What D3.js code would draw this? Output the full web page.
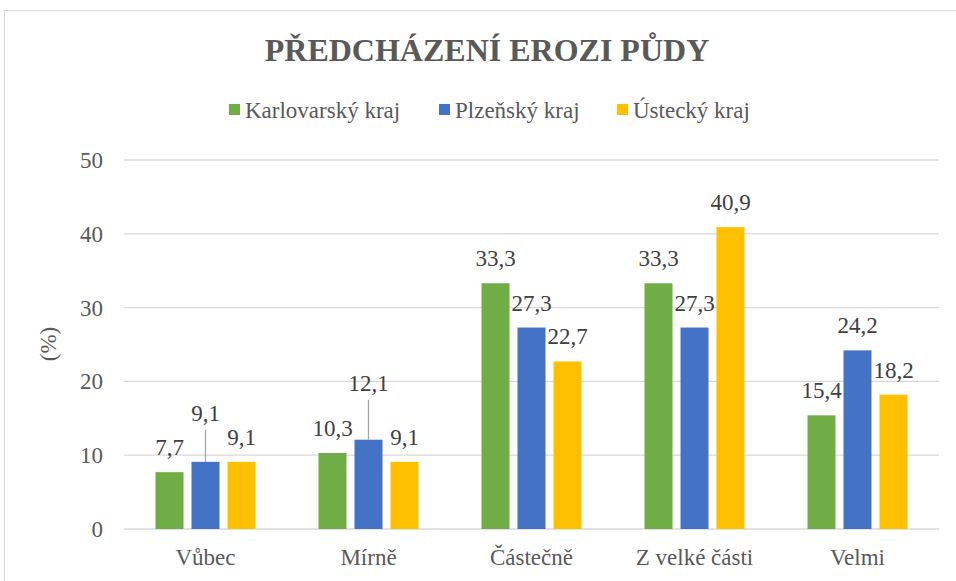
<!DOCTYPE html>
<html>
<head>
    <script src="https://d3js.org/d3.v7.min.js"></script>
    <style>
        body { margin: 0; background: #fff; }
    </style>
</head>
<body>
<script>
    // data
    var categories = ["Vůbec", "Mírně", "Částečně", "Z velké části", "Velmi"];
    var seriesNames = ["Karlovarský kraj", "Plzeňský kraj", "Ústecký kraj"];
    var karlovarsky = [7.7, 10.3, 33.3, 33.3, 15.4];
    var plzensky = [9.1, 12.1, 27.3, 27.3, 24.2];
    var ustecky = [9.1, 9.1, 22.7, 40.9, 18.2];
    var yTicks = [0, 10, 20, 30, 40, 50];

    var colors = ["#70ad47", "#4472c4", "#ffc000"];
    var series = [karlovarsky, plzensky, ustecky];

    var w = 956, h = 581;
    var plotLeft = 124, plotRight = 939, plotTop = 160, plotBottom = 529;
    var fs = "23px";

    var svg = d3.select("body").append("svg")
        .attr("width", w)
        .attr("height", h);

    // chart frame
    svg.append("rect")
        .attr("x", 4.5).attr("y", 10.5)
        .attr("width", 970).attr("height", 600)
        .attr("fill", "#fff")
        .attr("stroke", "#d9d9d9");

    var x0 = d3.scaleBand().domain(categories).range([plotLeft, plotRight]);
    var y = d3.scaleLinear().domain([0, 50]).range([plotBottom, plotTop]);

    var barW = 28, barGap = 8;
    function barX(ci, si) {
        var center = x0(categories[ci]) + x0.bandwidth() / 2;
        return center - (3 * barW + 2 * barGap) / 2 + si * (barW + barGap);
    }

    // gridlines
    svg.append("g").selectAll("line")
        .data(yTicks)
        .enter().append("line")
        .attr("x1", plotLeft).attr("x2", plotRight)
        .attr("y1", function (d) { return y(d); })
        .attr("y2", function (d) { return y(d); })
        .attr("stroke", "#d9d9d9")
        .attr("stroke-width", 1.3);

    // y tick labels
    svg.append("g").selectAll("text")
        .data(yTicks)
        .enter().append("text")
        .attr("x", 103)
        .attr("y", function (d) { return y(d); })
        .attr("dy", "0.35em")
        .attr("text-anchor", "end")
        .style("font-size", fs)
        .text(function (d) { return d; });

    // y axis title
    svg.append("text")
        .attr("transform", "translate(48,344) rotate(-90)")
        .attr("dy", "0.35em")
        .attr("text-anchor", "middle")
        .style("font-size", fs)
        .text("(%)");

    // category labels
    svg.append("g").selectAll("text")
        .data(categories)
        .enter().append("text")
        .attr("x", function (d) { return x0(d) + x0.bandwidth() / 2; })
        .attr("y", 565)
        .attr("text-anchor", "middle")
        .style("font-size", fs)
        .text(function (d) { return d; });

    // labels moved up with a leader line: key "series-category" -> extra lift in px
    var lifted = { "1-0": 24, "1-1": 32 };

    series.forEach(function (vals, si) {
        var g = svg.append("g");
        g.selectAll("rect")
            .data(vals)
            .enter().append("rect")
            .attr("x", function (d, ci) { return barX(ci, si); })
            .attr("y", function (d) { return y(d); })
            .attr("width", barW)
            .attr("height", function (d) { return y(0) - y(d); })
            .attr("fill", colors[si]);

        vals.forEach(function (d, ci) {
            var cx = barX(ci, si) + barW / 2;
            var lift = lifted[si + "-" + ci] || 0;
            if (lift) {
                g.append("line")
                    .attr("x1", cx).attr("x2", cx)
                    .attr("y1", y(d)).attr("y2", y(d) - lift - 8)
                    .attr("stroke", "#a6a6a6")
                    .attr("stroke-width", 1.3);
            }
            g.append("text")
                .attr("class", "dlabel")
                .attr("x", cx)
                .attr("y", y(d) - 17 - lift)
                .attr("text-anchor", "middle")
                .style("font-size", fs)
                .text(String(d).replace(".", ","));
        });
    });

    // title
    svg.append("text")
        .attr("x", 487)
        .attr("y", 61)
        .attr("text-anchor", "middle")
        .style("font-size", "32px")
        .style("font-weight", "bold")
        .text("PŘEDCHÁZENÍ EROZI PŮDY");

    // legend
    var legendX = [229, 439, 617];
    var legend = svg.append("g").selectAll("g")
        .data(seriesNames)
        .enter().append("g")
        .attr("transform", function (d, i) { return "translate(" + legendX[i] + ",110)"; });
    legend.append("rect")
        .attr("x", 0).attr("y", -6)
        .attr("width", 11).attr("height", 11)
        .attr("fill", function (d, i) { return colors[i]; });
    legend.append("text")
        .attr("x", 16)
        .attr("y", 0)
        .attr("dy", "0.35em")
        .style("font-size", fs)
        .text(function (d) { return d; });

    // same font everywhere
    svg.selectAll("text")
        .style("font-family", "'Liberation Serif', serif")
        .style("fill", "#595959");
    svg.selectAll(".dlabel").style("fill", "#404040");
</script>
</body>
</html>
